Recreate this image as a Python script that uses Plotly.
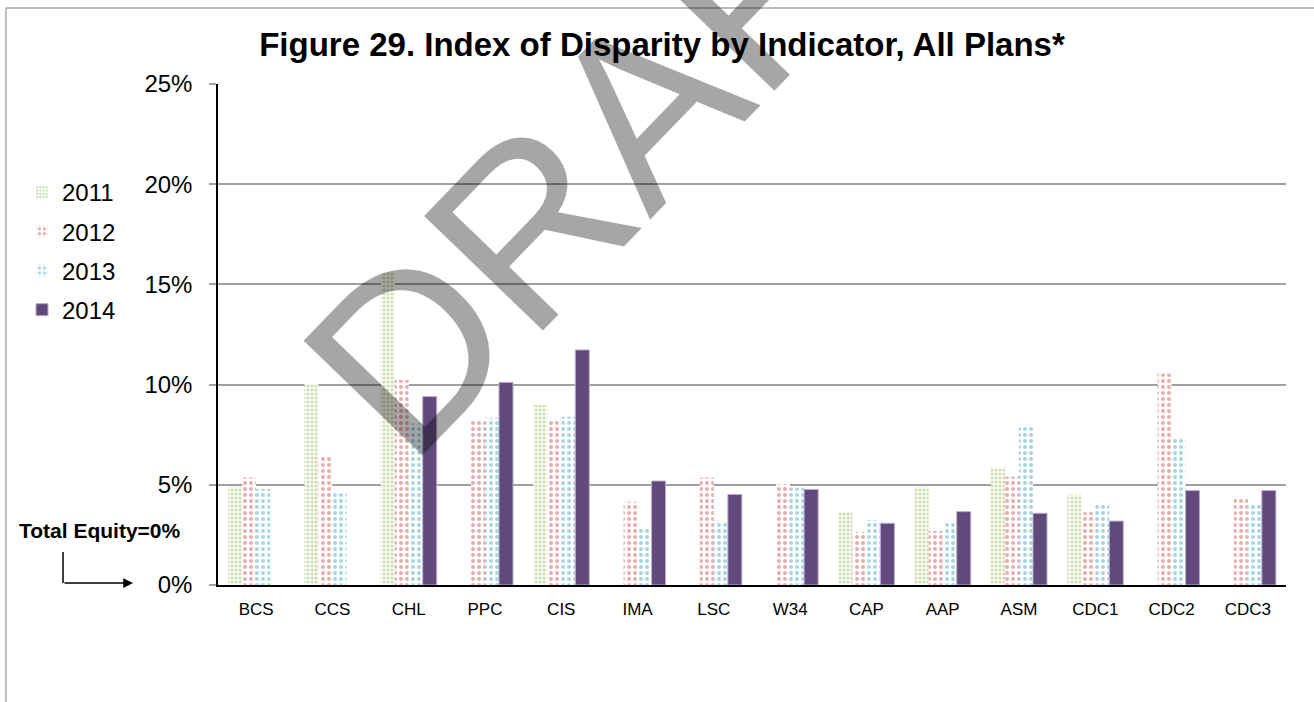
import plotly.graph_objects as go

categories = ["BCS", "CCS", "CHL", "PPC", "CIS", "IMA", "LSC", "W34", "CAP", "AAP", "ASM", "CDC1", "CDC2", "CDC3"]
v2011 = [4.90, 10.06, 15.63, None, 8.98, None, None, None, 3.63, 4.90, 5.87, 4.52, None, None]
v2012 = [5.37, 6.40, 10.23, 8.22, 8.27, 4.16, 5.37, 5.04, 2.66, 2.69, 5.40, 3.63, 10.56, 4.33]
v2013 = [4.79, 4.58, 8.07, 8.35, 8.40, 2.83, 3.11, 4.86, 3.24, 3.11, 7.95, 4.08, 7.35, 3.99]
v2014 = [None, None, 9.40, 10.11, 11.73, 5.19, 4.52, 4.77, 3.08, 3.66, 3.58, 3.19, 4.71, 4.71]
series_names = ["2011", "2012", "2013", "2014"]
y_ticks = [0, 5, 10, 15, 20, 25]

FONT = "Liberation Sans, Arial, sans-serif"
W, H = 1314, 702
L, R, T, B = 218, 28, 84, 117
PW, PH = W - L - R, H - T - B


def px(x):
    return (x - L) / PW


def py(y):
    return (H - B - y) / PH


fig = go.Figure()
styles = [
    dict(fg="#9BBB59", size=4, sol=0.5),
    dict(fg="#D05A57", size=6, sol=0.35),
    dict(fg="#4BACC6", size=6, sol=0.35),
]
for name, vals, st in zip(series_names[:3], [v2011, v2012, v2013], styles):
    fig.add_trace(go.Bar(
        x=categories, y=vals, name=name, legendgroup=name,
        marker=dict(color="white", line=dict(width=0),
                    pattern=dict(shape=".", fgcolor=st["fg"], bgcolor="white",
                                 size=st["size"], solidity=st["sol"], fillmode="overlay")),
    ))
fig.add_trace(go.Bar(
    x=categories, y=v2014, name=series_names[3], legendgroup=series_names[3],
    marker=dict(color="#604A7B", line=dict(width=1, color="#B9ACCB")),
))

grid_col = "#A0A0A0"
fig.update_layout(
    width=W, height=H,
    margin=dict(l=L, r=R, t=T, b=B, autoexpand=False),
    paper_bgcolor="white", plot_bgcolor="white",
    barmode="group", bargap=0.266, bargroupgap=0,
    font=dict(family=FONT, color="black"),
    title=dict(text="<b>Figure 29. Index of Disparity by Indicator, All Plans*</b>",
               x=(662) / W, xanchor="center", y=1 - 44 / H, yanchor="middle",
               font=dict(size=33, family=FONT, color="black")),
    showlegend=True,
    legend=dict(x=px(22), xanchor="left", y=py(170), yanchor="top",
                font=dict(size=24, family=FONT), traceorder="grouped",
                tracegroupgap=5, bgcolor="rgba(0,0,0,0)", itemwidth=30),
    xaxis=dict(showgrid=False, showline=True, linecolor="black", linewidth=2,
               ticks="", tickfont=dict(size=17, family=FONT), ticklabelstandoff=8,
               zeroline=False),
    yaxis=dict(range=[0, 25], tickvals=y_ticks, ticktext=[f"{v}%" for v in y_ticks],
               showgrid=True, gridcolor=grid_col, gridwidth=2,
               showline=True, linecolor="black", linewidth=1.5,
               ticks="outside", ticklen=7, tickcolor=grid_col, tickwidth=2,
               tickfont=dict(size=24, family=FONT), ticklabelstandoff=12,
               zeroline=False),
)

shapes = [
    dict(type="line", xref="paper", yref="paper", x0=px(6), x1=px(W), y0=py(8), y1=py(8),
         line=dict(color="#A6A6A6", width=1.5)),
    dict(type="line", xref="paper", yref="paper", x0=px(6), x1=px(6), y0=py(8), y1=py(H),
         line=dict(color="#A6A6A6", width=1.5)),
    dict(type="line", xref="paper", yref="paper", x0=px(63), x1=px(63), y0=py(552), y1=py(583),
         line=dict(color="black", width=1.5)),
]
fig.update_layout(shapes=shapes)

fig.add_annotation(text="<b>Total Equity=0%</b>", xref="paper", yref="paper",
                   x=px(100), y=py(530), xanchor="center", yanchor="middle", showarrow=False,
                   font=dict(size=21, family=FONT, color="black"))
fig.add_annotation(text="", xref="paper", yref="paper", x=px(133), y=py(583),
                   ax=-70, ay=0, showarrow=True, arrowhead=2, arrowsize=1.3,
                   arrowwidth=1.5, arrowcolor="black")
fig.add_annotation(text="DRAFT", xref="paper", yref="paper", x=px(627), y=py(124),
                   xanchor="center", yanchor="middle", showarrow=False, textangle=-46,
                   font=dict(size=240, family=FONT, color="rgba(0,0,0,0.35)"))

fig.write_html("out.html", config={"displayModeBar": False},
               post_script="document.body.style.margin='0';document.body.style.padding='0';")
